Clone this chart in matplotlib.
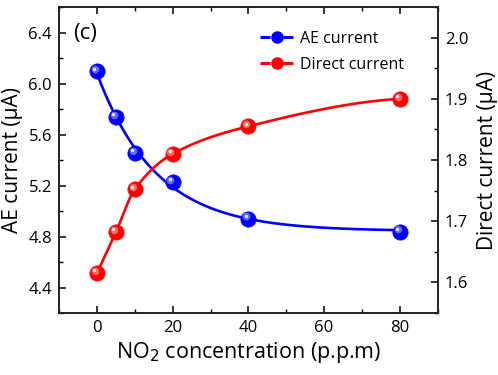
import numpy as np
import matplotlib
matplotlib.use("Agg")
import matplotlib.pyplot as plt
from matplotlib.lines import Line2D
from matplotlib.ticker import MultipleLocator, FormatStrFormatter
import matplotlib.transforms as mtransforms

# ---- data ----
conc = [0, 5, 10, 20, 40, 80]
ae_current = [6.095, 5.736, 5.453, 5.229, 4.941, 4.838]
direct_current = [1.615, 1.682, 1.752, 1.810, 1.855, 1.900]
x_ticks = [0, 20, 40, 60, 80]
left_ticks = [4.4, 4.8, 5.2, 5.6, 6.0, 6.4]
right_ticks = [1.6, 1.7, 1.8, 1.9, 2.0]

plt.rcParams['font.family'] = ['Open Sans', 'DejaVu Sans']

BLUE = '#0000FF'
RED = '#FF0000'


def exp_fit(x, y, xs):
    x = np.asarray(x, float); y = np.asarray(y, float)
    best = None
    for c in np.linspace(1, 80, 800):
        A = np.vstack([np.ones_like(x), np.exp(-x / c)]).T
        coef, *_ = np.linalg.lstsq(A, y, rcond=None)
        r = np.sum((A @ coef - y) ** 2)
        if best is None or r < best[0]:
            best = (r, c, coef)
    _, c, coef = best
    return coef[0] + coef[1] * np.exp(-xs / c)


def pchip(x, y, xs):
    x = np.asarray(x, float); y = np.asarray(y, float)
    h = np.diff(x); d = np.diff(y) / h
    n = len(x); m = np.zeros(n)
    for k in range(1, n - 1):
        if d[k - 1] * d[k] > 0:
            w1 = 2 * h[k] + h[k - 1]; w2 = h[k] + 2 * h[k - 1]
            m[k] = (w1 + w2) / (w1 / d[k - 1] + w2 / d[k])
    m[0] = ((2 * h[0] + h[1]) * d[0] - h[0] * d[1]) / (h[0] + h[1])
    if np.sign(m[0]) != np.sign(d[0]):
        m[0] = 0
    m[-1] = ((2 * h[-1] + h[-2]) * d[-1] - h[-1] * d[-2]) / (h[-1] + h[-2])
    if np.sign(m[-1]) != np.sign(d[-1]):
        m[-1] = 0
    out = np.empty_like(xs)
    for i, xv in enumerate(xs):
        k = min(np.searchsorted(x, xv, side='right') - 1, n - 2)
        k = max(k, 0)
        t = (xv - x[k]) / h[k]
        h00 = 2 * t**3 - 3 * t**2 + 1; h10 = t**3 - 2 * t**2 + t
        h01 = -2 * t**3 + 3 * t**2; h11 = t**3 - t**2
        out[i] = h00 * y[k] + h10 * h[k] * m[k] + h01 * y[k + 1] + h11 * h[k] * m[k + 1]
    return out


fig = plt.figure(figsize=(4.98, 3.75), dpi=100)
ax = fig.add_axes([0.1185, 0.1653, 0.7605, 0.816])
ax2 = ax.twinx()

xs = np.linspace(0, 80, 400)


def sphere(axis, x, y, color, light, ms=11):
    axis.plot(x, y, 'o', ms=ms, mfc=color, mec=color, mew=0.5, zorder=5)
    off = mtransforms.offset_copy(axis.transData, fig=fig, x=-1.6, y=1.6, units='points')
    axis.plot(x, y, 'o', ms=ms * 0.5, mfc=light, mec='none', alpha=0.8, transform=off, zorder=6)
    off2 = mtransforms.offset_copy(axis.transData, fig=fig, x=-2.0, y=2.0, units='points')
    axis.plot(x, y, 'o', ms=ms * 0.22, mfc='white', mec='none', alpha=0.9, transform=off2, zorder=7)


ax.plot(xs, exp_fit(conc, ae_current, xs), color=BLUE, lw=1.9, zorder=3)
sphere(ax, conc, ae_current, BLUE, '#8080ff')
ax2.plot(xs, pchip(conc, direct_current, xs), color=RED, lw=1.9, zorder=3)
sphere(ax2, conc, direct_current, RED, '#ff8080')

ax.set_xlim(-10, 90)
ax.set_ylim(4.2, 6.6)
ax2.set_ylim(1.55, 2.05)
ax.set_xticks(x_ticks)
ax.xaxis.set_minor_locator(MultipleLocator(10))
ax.set_yticks(left_ticks)
ax.yaxis.set_minor_locator(MultipleLocator(0.2))
ax2.set_yticks(right_ticks)
ax2.yaxis.set_minor_locator(MultipleLocator(0.05))
ax.yaxis.set_major_formatter(FormatStrFormatter('%.1f'))
ax2.yaxis.set_major_formatter(FormatStrFormatter('%.1f'))

for a in (ax, ax2):
    for s in a.spines.values():
        s.set_linewidth(1.2)
        s.set_color('#222222')
ax.tick_params(axis='both', which='major', direction='in', length=5, width=1.1,
               labelsize=12, top=True, right=False, pad=5)
ax.tick_params(axis='both', which='minor', direction='in', length=3, width=1.0,
               top=True, right=False)
ax2.tick_params(axis='y', which='major', direction='in', length=5, width=1.1,
                labelsize=12, pad=5)
ax2.tick_params(axis='y', which='minor', direction='in', length=3, width=1.0)

ax.set_xlabel('NO$_2$ concentration (p.p.m)', fontsize=15.5, labelpad=3)
ax.set_ylabel('AE current (μA)', fontsize=15, labelpad=4)
ax2.set_ylabel('Direct current (μA)', fontsize=15, labelpad=6)

ax.text(0.037, 0.912, '(c)', transform=ax.transAxes, fontsize=16, va='center', ha='left')

handles = [
    Line2D([], [], color=BLUE, lw=2.2, ls=(0, (3.3, 4.2)), marker='o', ms=8, mfc=BLUE, mec=BLUE),
    Line2D([], [], color=RED, lw=2.2, ls=(0, (3.3, 4.2)), marker='o', ms=8, mfc=RED, mec=RED),
]
leg = ax2.legend(handles, ['AE current', 'Direct current'], loc='upper left',
                 bbox_to_anchor=(0.515, 0.943), frameon=False, fontsize=11.5,
                 handlelength=2.1, handletextpad=0.35, labelspacing=0.62,
                 borderaxespad=0.0, borderpad=0.4)

fig.savefig('out.png', dpi=100)
